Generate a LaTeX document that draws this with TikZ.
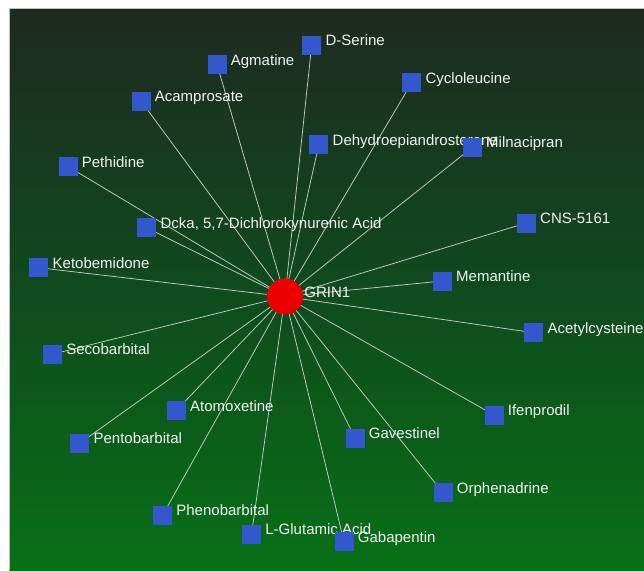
\documentclass[tikz,border=0pt]{standalone}
\usepackage{fontspec}
\setmainfont{Liberation Sans}
\pgfdeclarelayer{bg}
\pgfdeclarelayer{edges}
\pgfsetlayers{bg,edges,main}
\definecolor{bgtop}{RGB}{30,42,32}
\definecolor{bgmid}{RGB}{16,74,30}
\definecolor{bgbot}{RGB}{8,112,22}
\definecolor{sqblue}{RGB}{51,88,206}
\definecolor{hubred}{RGB}{238,0,0}
\definecolor{edgegray}{RGB}{196,204,196}
\definecolor{txt}{RGB}{242,242,242}
\tikzset{
  sq/.style={rectangle, fill=sqblue, minimum size=19pt, inner sep=0pt},
  hub/.style={circle, fill=hubred, minimum size=36pt, inner sep=0pt},
  lbl/.style={anchor=base west, inner sep=0pt, text=txt, font=\fontsize{15}{18}\selectfont},
  edge/.style={draw=edgegray, line width=0.75pt}
}
\newcommand\drug[4]{%
  \node[sq] (#1) at (#2,#3) {};
  \node[lbl] (#1-l) at ([xshift=4pt,yshift=-0.5pt]#1.east) {#4};}
\begin{document}
\begin{tikzpicture}[x=1pt,y=-1pt]
\useasboundingbox (0,0) rectangle (644,570);
\begin{pgfonlayer}{bg}
  \fill[white] (0,0) rectangle (644,570);
  \shade[top color=bgtop, bottom color=bgbot, middle color=bgmid] (9,8) rectangle (644,570);
  \draw[gray!50, line width=0.6pt] (9,570) -- (9,8) -- (644,8);
\end{pgfonlayer}
\node[hub] (grin) at (285,296.5) {};
\node[lbl] (grin-l) at ([xshift=1pt,yshift=-0.5pt]grin.east) {GRIN1};
\drug{agm}{217}{64.5}{Agmatine}
\drug{dser}{311.7}{45}{D-Serine}
\drug{acam}{141}{101}{Acamprosate}
\drug{cyc}{411.7}{82.7}{Cycloleucine}
\drug{dhea}{318.8}{144.7}{Dehydroepiandrosterone}
\drug{miln}{472.3}{147.3}{Milnacipran}
\drug{peth}{68}{166.5}{Pethidine}
\drug{cns}{526.3}{223}{CNS-5161}
\drug{dcka}{146.7}{227.8}{Dcka, 5,7-Dichlorokynurenic Acid}
\drug{keto}{38.8}{267.7}{Ketobemidone}
\drug{mem}{442.3}{281}{Memantine}
\drug{acet}{533.7}{332.7}{Acetylcysteine}
\drug{seco}{52.5}{354.2}{Secobarbital}
\drug{atom}{176.3}{410.5}{Atomoxetine}
\drug{ifen}{494}{415}{Ifenprodil}
\drug{pento}{79.7}{443.3}{Pentobarbital}
\drug{gav}{355}{438}{Gavestinel}
\drug{orph}{443}{492.7}{Orphenadrine}
\drug{pheno}{162.5}{515.3}{Phenobarbital}
\drug{lglu}{251.5}{534.3}{L-Glutamic Acid}
\drug{gaba}{344}{541.8}{Gabapentin}
\begin{pgfonlayer}{edges}
  \foreach \n in {agm,dser,acam,cyc,dhea,miln,peth,cns,dcka,keto,mem,acet,seco,atom,ifen,pento,gav,orph,pheno,lglu,gaba}
    \draw[edge] (grin.center) -- (\n.center);
\end{pgfonlayer}
\end{tikzpicture}
\end{document}
